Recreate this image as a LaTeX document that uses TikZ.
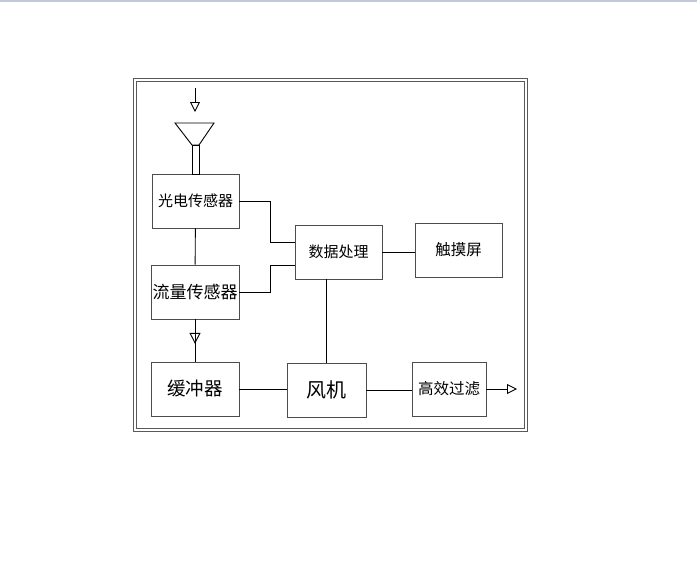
\documentclass[tikz,border=0pt]{standalone}
\usepackage{fontspec}
\usepackage{xcolor}
\newfontfamily\cjk{Noto Sans CJK SC}
\usetikzlibrary{arrows.meta,decorations.markings}
\definecolor{topline}{RGB}{192,202,219}

\begin{document}
\begin{tikzpicture}[x=1pt, y=-1pt, line width=0.9pt,
  every node/.style={draw=black!70, inner sep=0pt, align=center},
  blk/.style={minimum width=88pt, minimum height=54pt},
  txt/.style={font=\cjk\fontsize{#1}{#1}\selectfont},
  opentip/.style={-{Triangle[open, width=10pt, length=10pt]}},
  midtip/.style={postaction={decorate}, decoration={markings,
    mark=at position 0.58 with {\arrow{Triangle[open, width=11pt, length=11pt]}}}}]
  \useasboundingbox (0,0) rectangle (697,573);
  \fill[topline] (0,0) rectangle (697,1.5);
  % double frame
  \draw[black!65] (133,78) rectangle (527,431);
  \draw[black!65] (136,81) rectangle (524,428);

  \node[blk, minimum width=87pt, txt=15] (pe) at (195.5,201) {光电传感器};
  \node[blk, txt=17] (flow) at (195,292) {流量传感器};
  \node[blk, txt=18.5] (buf) at (195,389) {缓冲器};
  \node[blk, minimum width=87pt, txt=15] (data) at (338.5,252) {数据处理};
  \node[blk, minimum width=87pt, txt=15.5] (touch) at (458.5,250) {触摸屏};
  \node[blk, minimum width=79pt, txt=20] (fan) at (326.5,390) {风机};
  \node[blk, minimum width=74pt, txt=15.5] (hepa) at (449,389) {高效过滤};

  % funnel and intake
  \coordinate (drop) at (195,88);
  \coordinate (mouth) at (195,112);
  \coordinate (out) at (517,389);
  \draw[opentip] (drop) -- (mouth);
  \draw (175,123) -- (214,123) -- (199,145) -- (192,145) -- cycle;
  \draw (192,145) rectangle (199,174);

  \draw (pe) -- (flow);
  \draw[midtip] (flow) -- (buf);
  \draw (pe.east) -- ++(31,0) |- ([yshift=10pt]data.west);
  \draw (flow.east) -- ++(31,0) |- ([yshift=-13pt]data.west);
  \draw (data.east) -- (data.east -| touch.west);
  \draw (fan.north) -- (fan.north |- data.south);
  \draw (buf.east) -- (buf.east -| fan.west);
  \draw (fan.east) -- (fan.east -| hepa.west);
  \draw[opentip] (hepa.east) -- (out);
\end{tikzpicture}
\end{document}
